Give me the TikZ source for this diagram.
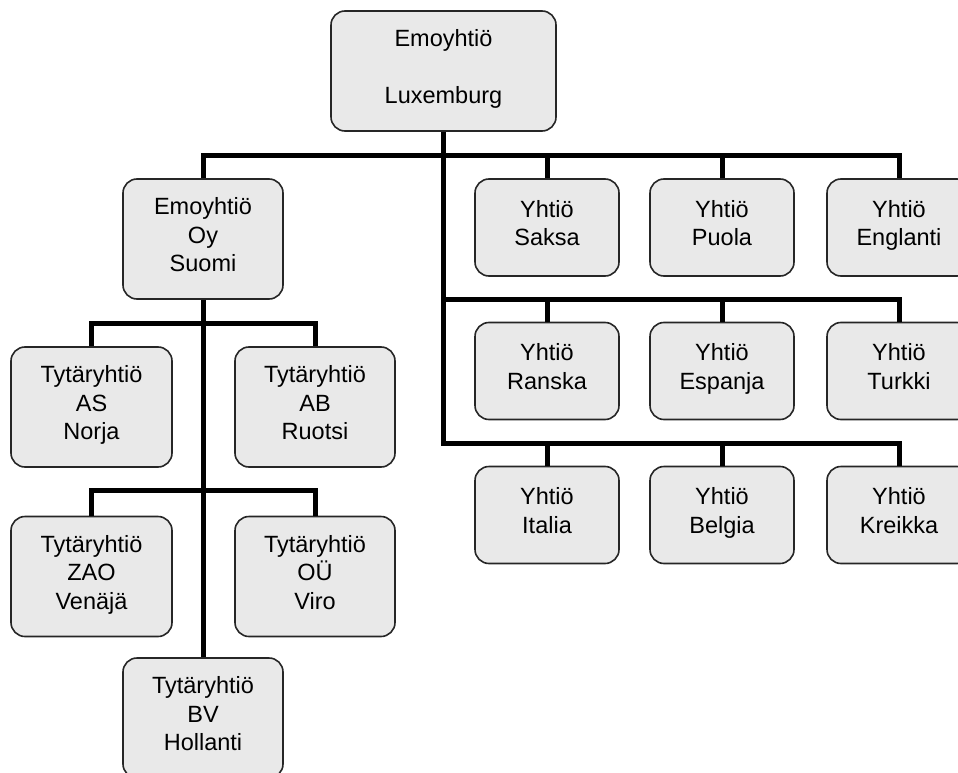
\documentclass[tikz,border=0pt]{standalone}
\usepackage{fontspec}
\setmainfont{Liberation Sans}
\begin{document}
\begin{tikzpicture}[x=1pt,y=-1pt,
  box/.style={draw=black!85, line width=1.6pt, fill=gray!17, rounded corners=14pt,
    align=center, inner sep=0pt, font=\fontsize{23.5}{28.5}\selectfont,
    execute at begin node=\strut, execute at end node=\strut},
  bigbox/.style={box, minimum width=160pt, minimum height=120pt},
  smallbox/.style={box, minimum width=144pt, minimum height=97pt},
  conn/.style={line width=5pt, black}]
\useasboundingbox (0,0) rectangle (958,773);
\clip (0,0) rectangle (958,773);
% bar levels
\coordinate (b1) at (0,155);
\coordinate (b2) at (0,299);
\coordinate (b3) at (0,443);
\coordinate (l1) at (0,323);
\coordinate (l2) at (0,490);
\coordinate (trunk) at (443,0);
% nodes
\node[box, minimum width=225pt, minimum height=120pt] (top) at (443.5,71) {Emoyhtiö\\[28.5pt]Luxemburg};
\node[bigbox] (suomi) at (203,239) {Emoyhtiö\\Oy\\Suomi};
\node[bigbox, minimum width=161pt] (norja) at (91.5,407) {Tytäryhtiö\\AS\\Norja};
\node[bigbox] (ruotsi) at (315,407) {Tytäryhtiö\\AB\\Ruotsi};
\node[bigbox, minimum width=161pt] (venaja) at (91.5,576.5) {Tytäryhtiö\\ZAO\\Venäjä};
\node[bigbox] (viro) at (315,576.5) {Tytäryhtiö\\OÜ\\Viro};
\node[bigbox] (hollanti) at (203,718) {Tytäryhtiö\\BV\\Hollanti};
\node[smallbox] (saksa) at (547,227.5) {Yhtiö\\Saksa};
\node[smallbox] (puola) at (722,227.5) {Yhtiö\\Puola};
\node[smallbox] (englanti) at (899,227.5) {Yhtiö\\Englanti};
\node[smallbox] (ranska) at (547,371) {Yhtiö\\Ranska};
\node[smallbox] (espanja) at (722,371) {Yhtiö\\Espanja};
\node[smallbox] (turkki) at (899,371) {Yhtiö\\Turkki};
\node[smallbox] (italia) at (547,515) {Yhtiö\\Italia};
\node[smallbox] (belgia) at (722,515) {Yhtiö\\Belgia};
\node[smallbox] (kreikka) at (899,515) {Yhtiö\\Kreikka};
% connectors
\draw[conn] (top.south -| trunk) -- (trunk |- b3) -- (kreikka.north |- b3) -- (kreikka.north);
\draw[conn] (suomi.north) -- (suomi.north |- b1) -- (englanti.north |- b1) -- (englanti.north);
\draw[conn] (saksa.north) -- (saksa.north |- b1);
\draw[conn] (puola.north) -- (puola.north |- b1);
\draw[conn] (trunk |- b2) -- (turkki.north |- b2) -- (turkki.north);
\draw[conn] (ranska.north) -- (ranska.north |- b2);
\draw[conn] (espanja.north) -- (espanja.north |- b2);
\draw[conn] (italia.north) -- (italia.north |- b3);
\draw[conn] (belgia.north) -- (belgia.north |- b3);
\draw[conn] (suomi.south) -- (hollanti.north);
\draw[conn] (norja.north) -- (norja.north |- l1) -- (ruotsi.north |- l1) -- (ruotsi.north);
\draw[conn] (venaja.north) -- (venaja.north |- l2) -- (viro.north |- l2) -- (viro.north);
\end{tikzpicture}
\end{document}
